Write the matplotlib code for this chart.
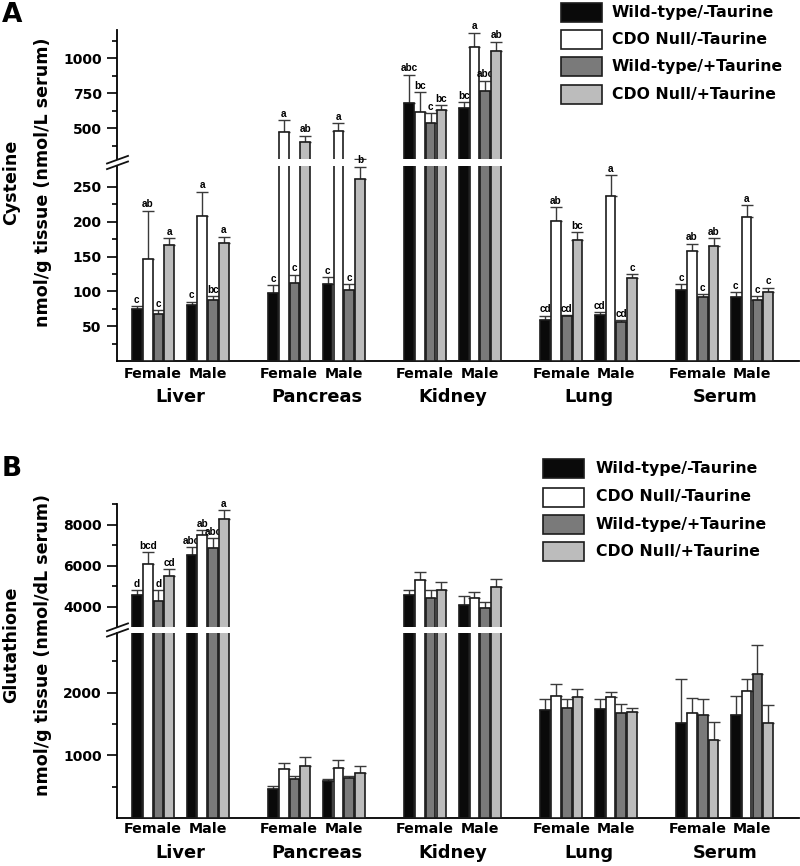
import matplotlib
matplotlib.use('Agg')
import matplotlib.pyplot as plt
from matplotlib.lines import Line2D
from matplotlib.patches import Rectangle
import numpy as np

# ---------------- data ----------------
tissues = ['Liver', 'Pancreas', 'Kidney', 'Lung', 'Serum']
sexes = ['Female', 'Male']
series_names = ['Wild-type/-Taurine', 'CDO Null/-Taurine',
                'Wild-type/+Taurine', 'CDO Null/+Taurine']
series_colors = ['#0a0a0a', '#ffffff', '#7a7a7a', '#bcbcbc']

# order: Liver F, Liver M, Pancreas F, Pancreas M, Kidney F, Kidney M, Lung F, Lung M, Serum F, Serum M
# Panel A: Cysteine
cys_wt_minus = [74.7, 80, 97.6, 110, 683, 648, 59.5, 65.7, 102.4, 91.9]
cys_wt_minus_err = [3.8, 5, 11, 10.5, 199, 39, 5.7, 4.3, 7.6, 7.1]
cys_wt_minus_let = ['c', 'c', 'c', 'c', 'abc', 'bc', 'cd', 'cd', 'c', 'c']

cys_cdo_minus = [146, 208.6, 476, 483, 617, 1077, 201.4, 237.6, 158.6, 207]
cys_cdo_minus_err = [70, 34.4, 84, 52, 141, 103, 19.1, 29.1, 10, 16.8]
cys_cdo_minus_let = ['ab', 'a', 'a', 'a', 'bc', 'a', 'ab', 'a', 'ab', 'a']

cys_wt_plus = [68, 87, 112.4, 102.4, 535, 765, 64.3, 55.7, 91.4, 87.6]
cys_wt_plus_err = [5, 6, 11.4, 7.6, 73, 75, 1.9, 2.9, 4.3, 5.3]
cys_wt_plus_let = ['c', 'bc', 'c', 'c', 'c', 'abc', 'cd', 'cd', 'c', 'c']

cys_cdo_plus = [166.7, 169.5, 405.6, 262, 631, 1051, 174.3, 118.6, 165.2, 99.5]
cys_cdo_plus_err = [9.3, 9.1, 42.4, 17, 33, 66, 10.5, 5.7, 11, 5.7]
cys_cdo_plus_let = ['a', 'a', 'ab', 'b', 'bc', 'ab', 'bc', 'c', 'ab', 'c']

# Panel B: Glutathione
gsh_wt_minus = [4542, 6532, 463, 590, 4576, 4084, 1723, 1743, 1515, 1638]
gsh_wt_minus_err = [246, 374, 47, 37, 246, 409, 180, 150, 707, 303]
gsh_wt_minus_let = ['d', 'abc', '', '', '', '', '', '', '', '']

gsh_cdo_minus = [6054, 7468, 782, 797, 5315, 4412, 1951, 1925, 1670, 2030]
gsh_cdo_minus_err = [606, 246, 90, 128, 360, 295, 186, 85, 249, 187]
gsh_cdo_minus_let = ['bcd', 'ab', '', '', '', '', '', '', '', '']

gsh_wt_plus = [4281, 6877, 622, 633, 4429, 3921, 1759, 1680, 1648, 2297]
gsh_wt_plus_err = [507, 443, 53, 37, 393, 295, 134, 133, 255, 458]
gsh_wt_plus_let = ['d', 'abc', '', '', '', '', '', '', '', '']

gsh_cdo_plus = [5478, 8286, 829, 713, 4822, 4954, 1925, 1691, 1244, 1515]
gsh_cdo_plus_err = [330, 414, 149, 116, 360, 410, 138, 64, 292, 283]
gsh_cdo_plus_let = ['cd', 'a', '', '', '', '', '', '', '', '']

# ---------------- layout ----------------
W, H = 800, 866
fig = plt.figure(figsize=(W / 100, H / 100), dpi=100)

def fbox(left, top, right, bottom):
    return [left / W, 1 - bottom / H, (right - left) / W, (bottom - top) / H]

def fx(x):
    return x / W

def fy(y):
    return 1 - y / H

BAR_W = 0.9
SEX_STEP = 5.06
TISSUE_STEP = 12.6
X0 = 1.84
XMAX = 63.15
idx = np.arange(10)
group_x = X0 + (idx // 2) * TISSUE_STEP + (idx % 2) * SEX_STEP

TXT = dict(fontweight='bold', family='DejaVu Sans')
LET = dict(fontweight='bold', family='Liberation Sans', fontsize=7.2)


def style_axis(ax, major, minor, labels):
    ax.set_xlim(0, XMAX)
    ax.set_xticks([])
    ax.set_yticks(major)
    ax.set_yticklabels(labels)
    ax.set_yticks(minor, minor=True)
    for s in ['top', 'right']:
        ax.spines[s].set_visible(False)
    ax.spines['left'].set_linewidth(1.3)
    ax.spines['bottom'].set_linewidth(1.3)
    ax.tick_params(axis='y', which='major', length=7, width=1.2, pad=4,
                   labelsize=10)
    ax.tick_params(axis='y', which='minor', length=3.6, width=1.2)
    for t in ax.get_yticklabels():
        t.set_fontweight('bold')
    ax.patch.set_alpha(0)


def draw_panel(up_px, low_px, up_lim, low_lim, means, errs, lets,
               up_major, up_minor, low_major, low_minor, gap_y,
               lab1, lab2, lab_center, letter, letter_y,
               lab_off, tis_off, legend_x, legend_ys, legend_text_x):
    ax_up = fig.add_axes(fbox(117, up_px[0], 799, up_px[1]))
    ax_low = fig.add_axes(fbox(117, low_px[0], 799, low_px[1]))
    ax_up.set_ylim(*up_lim)
    ax_low.set_ylim(*low_lim)
    style_axis(ax_up, up_major, up_minor, [str(v) for v in up_major])
    style_axis(ax_low, low_major, low_minor, [str(v) for v in low_major])
    ax_up.spines['bottom'].set_visible(False)

    for k in range(4):
        xs = group_x + k
        m = np.array(means[k], dtype=float)
        e = np.array(errs[k], dtype=float)
        for ax in (ax_up, ax_low):
            ax.bar(xs, m, width=BAR_W, color=series_colors[k],
                   edgecolor='#1c1c1c', linewidth=1.2, zorder=3)
            ax.errorbar(xs, m, yerr=[np.zeros_like(e), e], fmt='none',
                        ecolor='#3a3a3a', elinewidth=1.0, capsize=4.2,
                        capthick=1.0, zorder=2)
        for i in range(10):
            if not lets[k][i]:
                continue
            top = m[i] + e[i]
            ax = ax_up if top > low_lim[1] else ax_low
            ax.annotate(lets[k][i], (xs[i], top), xytext=(0, 1.0),
                        textcoords='offset points', ha='center',
                        va='bottom', **LET)

    # sex / tissue labels
    for i in range(10):
        cx = group_x[i] + 1.5
        ax_low.annotate(sexes[i % 2], (cx, 0), xycoords=('data', 'axes fraction'),
                        xytext=(0, lab_off), textcoords='offset points',
                        ha='center', va='baseline', fontsize=10.3, **TXT)
    for t in range(5):
        cx = (group_x[2 * t] + group_x[2 * t + 1]) / 2 + 1.5
        ax_low.annotate(tissues[t], (cx, 0), xycoords=('data', 'axes fraction'),
                        xytext=(0, tis_off), textcoords='offset points',
                        ha='center', va='baseline', fontsize=12.8, **TXT)

    # break marks
    for dy in (-2.8, 2.8):
        fig.add_artist(Line2D([fx(107), fx(128)],
                              [fy(gap_y + dy + 3.8), fy(gap_y + dy - 3.8)],
                              color='#111111', lw=1.3))

    # y labels
    fig.text(fx(11), fy(lab_center), lab1, rotation=90, ha='center',
             va='center', fontsize=12.6, **TXT)
    fig.text(fx(43), fy(lab_center), lab2, rotation=90, ha='center',
             va='center', fontsize=12.6, **TXT)
    fig.text(fx(2), fy(letter_y), letter, ha='left', va='top',
             fontsize=19, **TXT)

    # legend
    for k in range(4):
        fig.add_artist(Rectangle((fx(legend_x), fy(legend_ys[k] + 9.5)),
                                 41 / W, 19 / H, transform=fig.transFigure,
                                 facecolor=series_colors[k],
                                 edgecolor='#1c1c1c', linewidth=1.2))
        fig.text(fx(legend_text_x), fy(legend_ys[k]), series_names[k],
                 ha='left', va='center', fontsize=11.3, **TXT)


draw_panel(up_px=(30, 159), low_px=(166, 361),
           up_lim=(282, 1200), low_lim=(0, 280),
           means=[cys_wt_minus, cys_cdo_minus, cys_wt_plus, cys_cdo_plus],
           errs=[cys_wt_minus_err, cys_cdo_minus_err, cys_wt_plus_err, cys_cdo_plus_err],
           lets=[cys_wt_minus_let, cys_cdo_minus_let, cys_wt_plus_let, cys_cdo_plus_let],
           up_major=[500, 750, 1000], up_minor=[375, 625, 875, 1125],
           low_major=[50, 100, 150, 200, 250],
           low_minor=[25, 75, 125, 175, 225],
           gap_y=162.5,
           lab1='Cysteine', lab2='nmol/g tissue (nmol/L serum)',
           lab_center=182, letter='A', letter_y=2,
           lab_off=-12.2, tis_off=-29.7,
           legend_x=561, legend_ys=[12, 39.3, 66.6, 94], legend_text_x=612)

draw_panel(up_px=(504, 627), low_px=(633, 818),
           up_lim=(3000, 9000), low_lim=(0, 2950),
           means=[gsh_wt_minus, gsh_cdo_minus, gsh_wt_plus, gsh_cdo_plus],
           errs=[gsh_wt_minus_err, gsh_cdo_minus_err, gsh_wt_plus_err, gsh_cdo_plus_err],
           lets=[gsh_wt_minus_let, gsh_cdo_minus_let, gsh_wt_plus_let, gsh_cdo_plus_let],
           up_major=[4000, 6000, 8000], up_minor=[5000, 7000, 9000],
           low_major=[1000, 2000], low_minor=[500, 1500, 2500],
           gap_y=630,
           lab1='Glutathione', lab2='nmol/g tissue (nmol/dL serum)',
           lab_center=645, letter='B', letter_y=456,
           lab_off=-11.0, tis_off=-28.8,
           legend_x=543, legend_ys=[469, 497, 524.5, 551.5], legend_text_x=596)

fig.savefig('out.png', dpi=100)
